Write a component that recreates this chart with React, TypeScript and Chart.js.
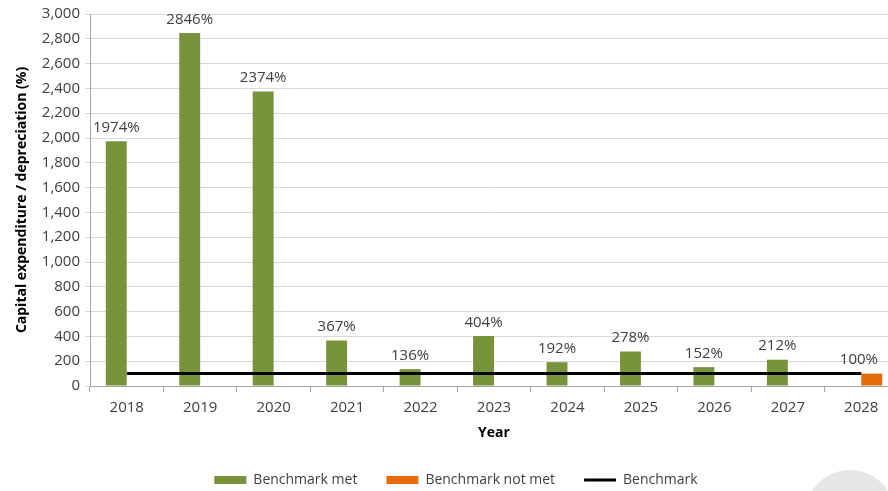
import React, { useEffect, useRef } from "react";
import { Chart, registerables } from "chart.js";

Chart.register(...registerables);

const years = ["2018", "2019", "2020", "2021", "2022", "2023", "2024", "2025", "2026", "2027", "2028"];
const benchmarkMet: (number | null)[] = [1974, 2846, 2374, 367, 136, 404, 192, 278, 152, 212, null];
const benchmarkNotMet: (number | null)[] = [null, null, null, null, null, null, null, null, null, null, 100];
const benchmark: number[] = [100, 100, 100, 100, 100, 100, 100, 100, 100, 100, 100];

const GREEN = "#77933C";
const ORANGE = "#E46C0A";
const FONT = "'Open Sans', 'Liberation Sans', sans-serif";
const VISIBLE_WIDTH = 888;

const labelPlugin = {
  id: "barLabels",
  afterDatasetsDraw(chart: any) {
    const ctx = chart.ctx;
    ctx.save();
    ctx.font = `15px ${FONT}`;
    ctx.fillStyle = "#404040";
    ctx.textAlign = "center";
    ctx.textBaseline = "bottom";
    [0, 1].forEach((di) => {
      const meta = chart.getDatasetMeta(di);
      const data = chart.data.datasets[di].data;
      meta.data.forEach((el: any, i: number) => {
        const v = data[i];
        if (v === null || v === undefined) return;
        const text = `${v}%`;
        const half = ctx.measureText(text).width / 2;
        const x = Math.min(el.x, VISIBLE_WIDTH - 10 - half);
        ctx.fillText(text, x, el.y - 6);
      });
    });
    ctx.restore();
  },
};

export default function App() {
  const ref = useRef<HTMLCanvasElement | null>(null);
  useEffect(() => {
    if (!ref.current) return;
    const chart = new Chart(ref.current, {
      type: "bar",
      data: {
        labels: years,
        datasets: [
          {
            type: "bar",
            label: "Benchmark met",
            data: benchmarkMet,
            backgroundColor: GREEN,
            barPercentage: 1,
            categoryPercentage: 0.57,
            order: 1,
          },
          {
            type: "bar",
            label: "Benchmark not met",
            data: benchmarkNotMet,
            backgroundColor: ORANGE,
            barPercentage: 1,
            categoryPercentage: 0.57,
            order: 1,
          },
          {
            type: "line",
            label: "Benchmark",
            data: benchmark,
            borderColor: "#000000",
            backgroundColor: "#000000",
            borderWidth: 3,
            pointRadius: 0,
            order: 0,
          } as any,
        ],
      },
      options: {
        responsive: false,
        animation: false,
        devicePixelRatio: 1,
        layout: { padding: { left: 14, right: 12, top: 13, bottom: -6 } },
        plugins: {
          tooltip: { enabled: false },
          legend: {
            position: "bottom",
            labels: {
              font: { family: FONT, size: 14 },
              color: "#404040",
              usePointStyle: true,
              pointStyleWidth: 32,
              boxHeight: 8,
              padding: 29,
              sort: (a: any, b: any) => a.datasetIndex - b.datasetIndex,
              generateLabels: () => [
                { text: "Benchmark met", fillStyle: GREEN, strokeStyle: GREEN, lineWidth: 0, pointStyle: "rect", datasetIndex: 0, hidden: false, fontColor: "#404040" },
                { text: "Benchmark not met", fillStyle: ORANGE, strokeStyle: ORANGE, lineWidth: 0, pointStyle: "rect", datasetIndex: 1, hidden: false, fontColor: "#404040" },
                { text: "Benchmark", fillStyle: "#000", strokeStyle: "#000", lineWidth: 3, pointStyle: "line", datasetIndex: 2, hidden: false, fontColor: "#404040" },
              ],
            },
          } as any,
        },
        scales: {
          x: {
            grid: {
              display: true,
              drawOnChartArea: false,
              drawTicks: true,
              tickLength: 6,
              color: "#a6a6a6",
              offset: true,
            },
            border: { display: true, color: "#a6a6a6", width: 1 },
            ticks: {
              font: { family: FONT, size: 15 },
              color: "#404040",
              padding: 7,
              maxRotation: 0,
            },
            title: {
              display: true,
              text: "Year",
              font: { family: FONT, size: 14, weight: "bold" },
              color: "#000",
              padding: { top: 4, bottom: 3 },
            },
            afterFit: (scale: any) => {
              scale.height = 58;
            },
          },
          y: {
            min: 0,
            max: 3000,
            ticks: {
              stepSize: 200,
              font: { family: FONT, size: 15 },
              color: "#404040",
              padding: 5,
              callback: (v: any) => Number(v).toLocaleString("en-US"),
            },
            grid: { color: "#d9d9d9", tickLength: 5, drawTicks: true },
            border: { display: true, color: "#a6a6a6" },
            title: {
              display: true,
              text: "Capital expenditure / depreciation (%)",
              font: { family: FONT, size: 14, weight: "bold" },
              color: "#000",
              padding: { top: 0, bottom: 0 },
            },
            afterFit: (scale: any) => {
              scale.width = 76;
            },
          },
        },
      },
      plugins: [labelPlugin],
    });
    return () => chart.destroy();
  }, []);

  return (
    <div style={{ position: "fixed", left: 0, top: 0, width: 888, height: 491, overflow: "hidden", background: "#fff" }}>
      <canvas ref={ref} width={910} height={491} style={{ position: "absolute", left: 0, top: 0 }} />
      <div
        style={{
          position: "absolute",
          left: 805,
          top: 470,
          width: 90,
          height: 90,
          borderRadius: "50%",
          background: "#e6e6e6",
          pointerEvents: "none",
        }}
      />
    </div>
  );
}
